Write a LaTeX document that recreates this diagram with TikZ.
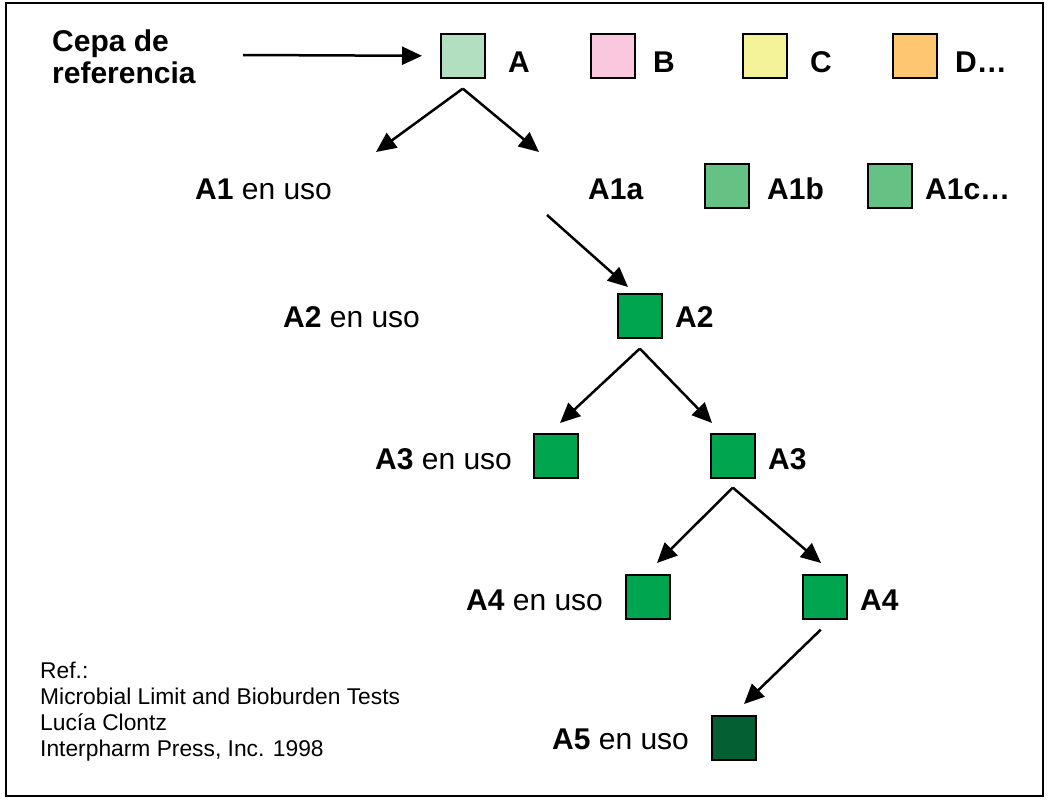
\documentclass[tikz,border=0pt]{standalone}
\usepackage{fontspec}
\setmainfont{Liberation Sans}
\usetikzlibrary{arrows.meta}
\definecolor{cA}{HTML}{B2DFC0}
\definecolor{cB}{HTML}{F9C8DF}
\definecolor{cC}{HTML}{F5F39A}
\definecolor{cD}{HTML}{FFC672}
\definecolor{cmid}{HTML}{66C184}
\definecolor{cgreen}{HTML}{00A550}
\definecolor{cdark}{HTML}{045F32}
\begin{document}
\begin{tikzpicture}[x=1pt,y=-1pt,
  box/.style={draw=black, line width=1.6pt, minimum width=44pt, minimum height=44pt, inner sep=0pt, anchor=north west},
  lbl/.style={anchor=base west, inner sep=0pt, font=\fontsize{30}{32}\selectfont},
  reftxt/.style={anchor=base west, inner sep=0pt, align=left, font=\fontsize{22.8}{26}\selectfont},
  arr/.style={line width=2.5pt, -{Triangle[length=20pt,width=18pt]}}]
\useasboundingbox (0,0) rectangle (1048,800);
\draw[line width=2pt] (5.5,3) rectangle (1043,796);

% top row
\node[lbl, anchor=north west, align=left] (cepa) at (52,30) {\textbf{Cepa de}\\\textbf{referencia}};
\node[box, fill=cA] (bA) at (440,33) {};
\node[lbl] (lA) at (508,72) {\textbf{A}};
\node[box, fill=cB] (bB) at (590,33) {};
\node[lbl] (lB) at (653,72) {\textbf{B}};
\node[box, fill=cC] (bC) at (742,33) {};
\node[lbl] (lC) at (810,72) {\textbf{C}};
\node[box, fill=cD] (bD) at (892,33) {};
\node[lbl] (lD) at (955,72) {\textbf{D…}};
\coordinate (cs) at (243,55);
\draw[arr] (cs) -- (bA.west -| 422,0);

% row 2
\node[lbl] (lA1) at (195,199) {\textbf{A1} en uso};
\node[lbl] (lA1a) at (588,199) {\textbf{A1a}};
\node[box, fill=cmid] (bA1b) at (704,163) {};
\node[lbl] (lA1b) at (767,199) {\textbf{A1b}};
\node[box, fill=cmid] (bA1c) at (867,163) {};
\node[lbl] (lA1c) at (925,199) {\textbf{A1c…}};
\coordinate (tA1L) at (376,152);
\coordinate (tA1R) at (539,152);
\draw[arr] ([yshift=-10pt]bA.south) -- (tA1L);
\draw[arr] ([yshift=-10pt]bA.south) -- (tA1R);

% row 3
\node[lbl] (lA2u) at (283,327) {\textbf{A2} en uso};
\node[box, fill=cgreen] (bA2) at (617,293) {};
\node[lbl] (lA2) at (675,327) {\textbf{A2}};
\coordinate (sA1a) at (547,215);
\coordinate (tA2) at (628,287);
\draw[arr] (sA1a) -- (tA2);

% row 4
\node[lbl] (lA3u) at (375,469) {\textbf{A3} en uso};
\node[box, fill=cgreen] (bA3u) at (533,433) {};
\node[box, fill=cgreen] (bA3) at (710,433) {};
\node[lbl] (lA3) at (768,469) {\textbf{A3}};
\coordinate (tA3L) at (560,423);
\coordinate (tA3R) at (712,423);
\draw[arr] ([yshift=-10pt]bA2.south) -- (tA3L);
\draw[arr] ([yshift=-10pt]bA2.south) -- (tA3R);

% row 5
\node[lbl] (lA4u) at (466,610) {\textbf{A4} en uso};
\node[box, fill=cgreen] (bA4u) at (625,574) {};
\node[box, fill=cgreen] (bA4) at (802,574) {};
\node[lbl] (lA4) at (860,610) {\textbf{A4}};
\coordinate (tA4L) at (657,563);
\coordinate (tA4R) at (821,563);
\draw[arr] ([yshift=-9pt]bA3.south) -- (tA4L);
\draw[arr] ([yshift=-9pt]bA3.south) -- (tA4R);

% row 6
\node[lbl] (lA5u) at (552,749) {\textbf{A5} en uso};
\node[box, fill=cdark] (bA5) at (711,715) {};
\coordinate (tA5) at (744,704);
\draw[arr] ([xshift=-4pt,yshift=-10pt]bA4.south) -- (tA5);

% reference
\node[reftxt] (ref) at (40,756) {Ref.:\\Microbial Limit and Bioburden Tests\\Lucía Clontz\\Interpharm Press, Inc. 1998};
\end{tikzpicture}
\end{document}
